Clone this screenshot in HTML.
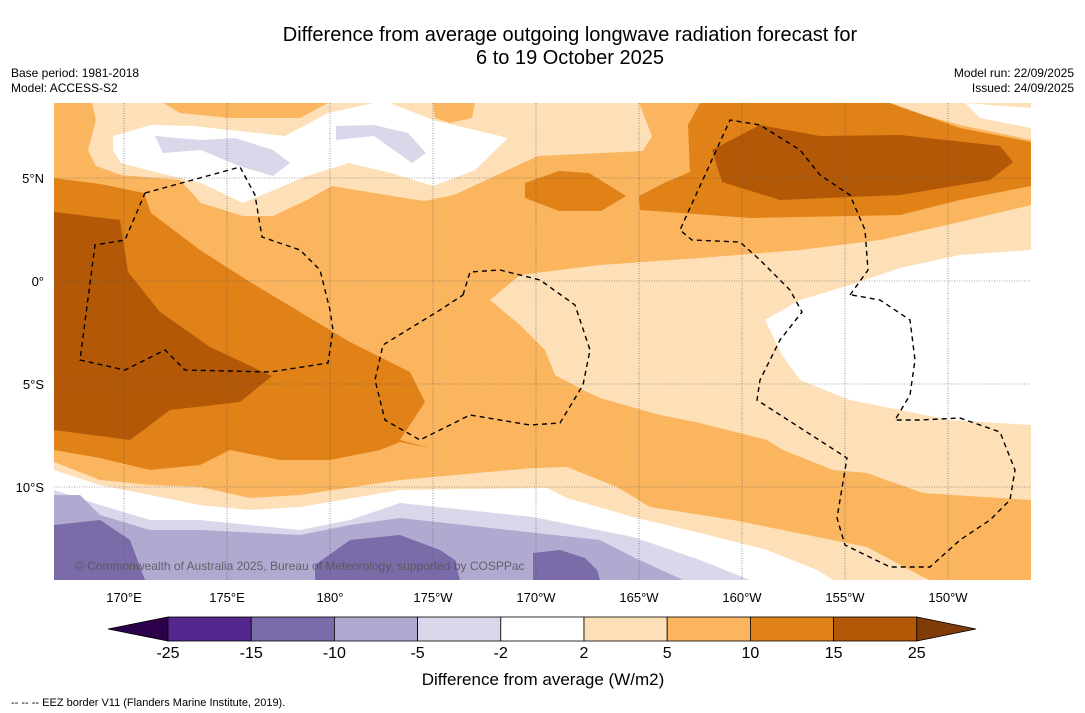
<!DOCTYPE html>
<html><head><meta charset="utf-8"><style>
body{margin:0;background:#fff;width:1085px;height:713px;overflow:hidden;font-family:"Liberation Sans","DejaVu Sans",sans-serif}
svg{position:absolute;left:0;top:0}
</style></head><body>
<svg width="1085" height="713" viewBox="0 0 1085 713">
<text x="570" y="41" text-anchor="middle" font-size="20" fill="#000">Difference from average outgoing longwave radiation forecast for</text>
<text x="570" y="64" text-anchor="middle" font-size="20" fill="#000">6 to 19 October 2025</text>
<text x="11" y="77" font-size="12">Base period: 1981-2018</text>
<text x="11" y="92" font-size="12">Model: ACCESS-S2</text>
<text x="1074" y="77" font-size="12" text-anchor="end">Model run: 22/09/2025</text>
<text x="1074" y="92" font-size="12" text-anchor="end">Issued: 24/09/2025</text>
<defs><clipPath id="mc"><rect x="54" y="103" width="977" height="477"/></clipPath></defs>
<g clip-path="url(#mc)">
<rect x="54" y="103" width="977" height="477" fill="#fbb55f"/>
<polygon fill="#fde0b8" points="92,103 639,103 652,136 643,151 538,156 454,195 424,201 374,193 332,186 307,200 273,216 243,216 201,203 180,180 121,175 96,166 88,150 96,120"/>
<polygon fill="#fbb55f" points="163,103 328,103 300,118 230,118 180,113"/>
<polygon fill="#fbb55f" points="433,103 475,103 472,118 450,123 435,118"/>
<polygon fill="#fff" points="113,136 151,125 193,126 285,136 328,113 374,103 390,103 433,120 508,138 475,170 433,186 391,173 349,163 307,176 243,203 201,183 159,173 121,163 113,150"/>
<polygon fill="#d8d8ea" points="155,136 201,140 235,138 273,150 290,163 273,176 239,166 201,150 163,153"/>
<polygon fill="#d8d8ea" points="336,126 374,125 408,133 426,153 412,163 374,136 336,140"/>
<polygon fill="#fde0b8" points="490,300 520,275 600,265 700,258 800,250 880,240 960,222 1031,205 1031,500 923,493 867,473 833,470 783,450 767,440 700,423 660,415 600,398 583,390 555,375 545,350 520,325"/>
<polygon fill="#fff" points="765,320 800,300 850,285 900,268 960,255 1031,250 1031,425 950,420 900,410 850,400 800,380 782,355"/>
<polygon fill="#fde0b8" points="880,103 1031,103 1031,140 960,125"/>
<polygon fill="#fff" points="965,103 1031,108 1031,128 980,118"/>
<polygon fill="#e08218" points="700,103 890,103 960,128 1031,142 1031,186 960,200 900,215 750,218 640,210 639,196 664,183 690,172 688,125"/>
<polygon fill="#b35806" points="712,150 760,125 820,136 900,135 1000,146 1013,162 990,180 900,195 780,200 722,182"/>
<polygon fill="#e08218" points="525,183 559,171 589,173 626,196 601,211 559,211 525,198"/>
<polygon fill="#e08218" points="54,178 100,184 144,193 151,213 200,250 250,282 300,312 350,342 410,372 425,402 400,440 430,448 400,442 380,450 330,460 280,460 230,450 200,465 150,470 100,458 54,450"/>
<polygon fill="#b35806" points="54,212 120,220 128,272 160,312 210,347 272,376 240,402 170,410 130,440 54,430"/>
<polygon fill="#fde0b8" points="54,462 100,480 150,485 200,487 250,498 300,495 400,480 533,468 567,467 617,487 650,507 733,520 867,547 923,577 930,580 54,580"/>
<polygon fill="#fff" points="54,470 100,485 200,505 250,510 300,507 400,490 547,488 567,498 633,517 700,533 767,550 817,570 833,580 54,580"/>
<polygon fill="#d8d8ea" points="54,490 100,505 150,520 200,520 250,525 300,530 350,520 400,503 533,517 633,537 700,560 750,580 54,580"/>
<polygon fill="#b0a9d0" points="54,495 80,495 100,515 150,530 200,530 300,535 350,525 400,518 600,540 633,557 683,580 54,580"/>
<polygon fill="#7b6ba8" points="54,525 100,520 130,540 145,580 54,580"/>
<polygon fill="#7b6ba8" points="315,565 350,540 400,535 440,550 455,560 460,580 315,580"/>
<polygon fill="#7b6ba8" points="533,553 560,550 585,558 597,570 600,580 533,580"/>
<g stroke="#555" stroke-width="0.6" stroke-dasharray="1,1.5" id="grid"></g>
<g fill="none" stroke="#000" stroke-width="1.4" stroke-dasharray="5,4">
<polyline points="145,193 240,167 255,195 262,237 300,250 320,270 330,310 333,330 328,363 270,372 185,370 165,350 125,370 80,360 95,245 125,240 145,193"/>
<polyline points="463,295 470,272 500,270 540,280 575,305 590,350 583,385 560,423 530,425 470,415 420,440 385,420 375,380 383,345 440,310 463,295"/>
<polyline points="850,295 868,270 865,230 850,195 820,175 800,150 760,125 730,120 680,230 692,240 740,242 760,260 790,290 802,312 780,340 760,380 757,400 847,458 837,518"/>
<polyline points="852,295 880,300 910,320 915,360 910,395 895,420 920,420 960,418 1000,432 1015,470 1010,500 990,520 960,540 930,567 890,567 845,545 837,518"/>
</g>
<text x="75" y="570" font-size="12" fill="#555" opacity="0.85">© Commonwealth of Australia 2025, Bureau of Meteorology, supported by COSPPac</text>
</g>
<g id="axislabels" font-size="13"></g>
<g id="cbar"></g>
<text x="543" y="685" text-anchor="middle" font-size="17">Difference from average (W/m2)</text>
<text x="11" y="706" font-size="11">--  --  -- EEZ border V11 (Flanders Marine Institute, 2019).</text>
</svg>
<script>
const NS="http://www.w3.org/2000/svg";
const lonLabels=["170°E","175°E","180°","175°W","170°W","165°W","160°W","155°W","150°W"];
const lonVals=[170,175,180,185,190,195,200,205,210];
const latLabels=["5°N","0°","5°S","10°S"];
const latVals=[5,0,-5,-10];
const cbTicks=["-25","-15","-10","-5","-2","2","5","10","15","25"];
const cbColors=["#54278f","#7b6ba8","#b0a9d0","#d8d8ea","#ffffff","#fde0b8","#fbb55f","#e08218","#b35806"];
const xOf=lon=>124+(lon-170)*20.6;
const yOf=lat=>281-lat*20.6;
const grid=document.getElementById('grid'),ax=document.getElementById('axislabels'),cb=document.getElementById('cbar');
function mk(t,a,p){const e=document.createElementNS(NS,t);for(const k in a)e.setAttribute(k,a[k]);p.appendChild(e);return e;}
lonVals.forEach((v,i)=>{const x=xOf(v);
 const l=mk('line',{x1:x,x2:x,y1:103,y2:580},grid);
 
 
 const t=mk('text',{x:x,y:602,'text-anchor':'middle'},ax);t.textContent=lonLabels[i];
 
 });
latVals.forEach((v,i)=>{const y=yOf(v);
 const l=mk('line',{x1:54,x2:1031,y1:y,y2:y},grid);
 
 
 const t=mk('text',{x:44,y:y+5,'text-anchor':'end'},ax);t.textContent=latLabels[i];
 
 });
const x0=168,w=83.2,y0=617,h=24;
const a1=mk('polygon',{points:`108,${y0+h/2} ${x0},${y0} ${x0},${y0+h}`,fill:'#2d004b',stroke:'#000','stroke-width':0.8},cb);


cbColors.forEach((c,i)=>{const r=mk('rect',{x:x0+i*w,y:y0,width:w,height:h,fill:c,stroke:'#000','stroke-width':0.8},cb);
 
 });
const xe=x0+cbColors.length*w;
const a2=mk('polygon',{points:`${xe},${y0} ${xe},${y0+h} 976,${y0+h/2}`,fill:'#7f3b08',stroke:'#000','stroke-width':0.8},cb);


cbTicks.forEach((t,i)=>{const e=mk('text',{x:x0+i*w,y:658,'text-anchor':'middle','font-size':16},cb);e.textContent=t;
 
 });
</script>
</body></html>
